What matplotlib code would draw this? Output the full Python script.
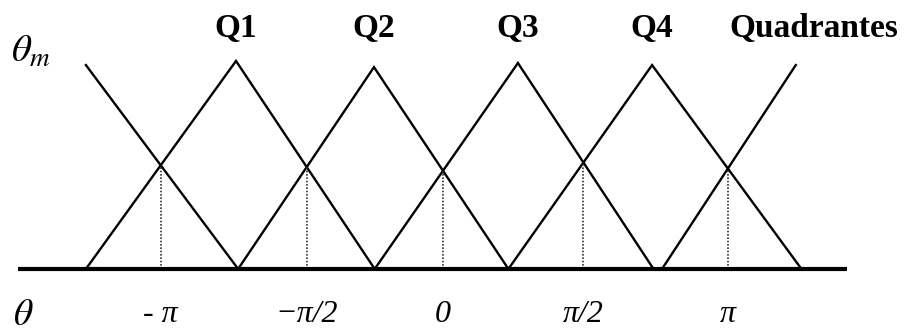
import matplotlib.pyplot as plt
import numpy as np

plt.rcParams['mathtext.fontset'] = 'stix'

# x in units of pi/2, y = membership (0 at the axis, 1 at a peak)
# each triangle: (left foot, peak x, peak height, right foot)
quadrants = ["Q1", "Q2", "Q3", "Q4"]
tri_left = [-2.51, -1.44, -0.48, 0.46]
tri_peak_x = [-1.455, -0.485, 0.527, 1.47]
tri_peak_y = [1.01, 0.98, 1.0, 0.99]
tri_right = [-0.48, 0.46, 1.48, 2.52]

# half triangles at both ends
left_edge = ([-2.51, -1.44], [0.99, 0.0])
right_edge = ([1.54, 2.48], [0.0, 0.99])

tick_labels = ["- \u03c0", "\u2212\u03c0/2", "0", "\u03c0/2", "\u03c0"]

axis_span = [-2.99, 2.84]


def crossing(p1, p2, q1, q2):
    # intersection of line p1-p2 with line q1-q2
    (x1, y1), (x2, y2) = p1, p2
    (x3, y3), (x4, y4) = q1, q2
    d = (x1 - x2) * (y3 - y4) - (y1 - y2) * (x3 - x4)
    a = x1 * y2 - y1 * x2
    b = x3 * y4 - y3 * x4
    return ((a * (x3 - x4) - (x1 - x2) * b) / d,
            (a * (y3 - y4) - (y1 - y2) * b) / d)


fig = plt.figure(figsize=(9.06, 3.33), dpi=100)
ax = fig.add_axes([0, 0, 1, 1])
ax.set_xlim(-3.114, 3.255)
ax.set_ylim(-0.311, 1.306)
ax.set_axis_off()

# falling and rising edges, in left-to-right order
falling = [((left_edge[0][0], left_edge[1][0]), (left_edge[0][1], left_edge[1][1]))]
rising = []
for i in range(4):
    up = ((tri_left[i], 0.0), (tri_peak_x[i], tri_peak_y[i]))
    down = ((tri_peak_x[i], tri_peak_y[i]), (tri_right[i], 0.0))
    rising.append(up)
    falling.append(down)
rising.append(((right_edge[0][0], right_edge[1][0]), (right_edge[0][1], right_edge[1][1])))

for i in range(4):
    ax.plot([tri_left[i], tri_peak_x[i], tri_right[i]],
            [0, tri_peak_y[i], 0], color="black", lw=1.7,
            solid_joinstyle="miter")
    ax.text(tri_peak_x[i], 1.17, quadrants[i], ha="center", va="center",
            family="Liberation Serif", weight="bold", fontsize=24)
ax.plot(*left_edge, color="black", lw=1.7)
ax.plot(*right_edge, color="black", lw=1.7)

# dotted drop lines at each crossing, with the angle below
for k in range(5):
    cx, cy = crossing(*falling[k], *rising[k])
    ax.plot([cx, cx], [0, cy], color="#333333", lw=1.2, linestyle=(0, (1, 1)))
    ax.text(cx, -0.223, tick_labels[k], ha="center", va="center",
            family="Liberation Serif", style="italic", fontsize=23)

ax.plot(axis_span, [0, 0], color="black", lw=3.0, solid_capstyle="butt")

ax.text(2.61, 1.17, "Quadrantes", ha="center", va="center",
        family="Liberation Serif", weight="bold", fontsize=24)
ax.text(-2.95, -0.223, r"$\theta$", ha="center", va="center", fontsize=27)
ax.text(-2.90, 1.06, r"$\theta_m$", ha="center", va="center", fontsize=28)

fig.savefig("out.png", dpi=100)
